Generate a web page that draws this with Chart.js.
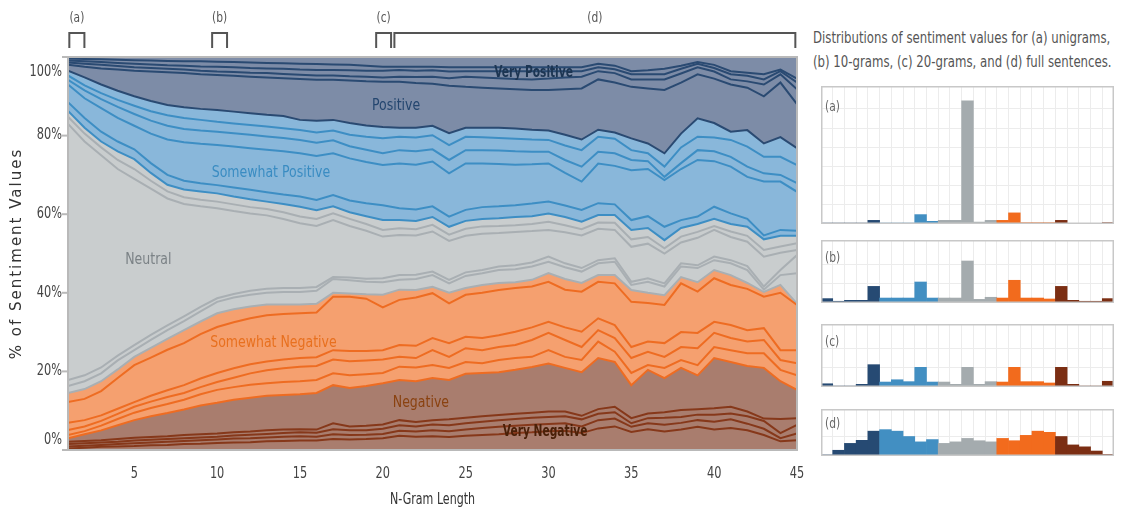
<!DOCTYPE html>
<html>
<head>
<meta charset="utf-8">
<script src="https://cdn.jsdelivr.net/npm/chart.js@4.4.1/dist/chart.umd.min.js"></script>
<style>
  html, body { margin: 0; padding: 0; background: #fff; }
  body { width: 1132px; height: 511px; position: relative; overflow: hidden; }
  canvas { position: absolute; display: block; }
  #caption {
    position: absolute; left: 813px; top: 26px;
    font: 15px 'DejaVu Sans Condensed', 'DejaVu Sans', sans-serif;
    color: #555; line-height: 24px; white-space: nowrap;
    transform: scaleX(0.87); transform-origin: left top;
  }
</style>
</head>
<body>
<canvas id="main" width="805" height="511" style="left:0;top:0"></canvas>
<div id="caption">Distributions of sentiment values for (a) unigrams,<br>(b) 10-grams, (c) 20-grams, and (d) full sentences.</div>
<canvas id="histA" width="293" height="138" style="left:821px;top:86px"></canvas>
<canvas id="histB" width="293" height="63" style="left:821px;top:240px"></canvas>
<canvas id="histC" width="293" height="63" style="left:821px;top:324px"></canvas>
<canvas id="histD" width="293" height="47" style="left:821px;top:409px"></canvas>
<script>
const FONT = "'DejaVu Sans Condensed', 'DejaVu Sans', sans-serif";

const nGram = [1,2,3,4,5,6,7,8,9,10,11,12,13,14,15,16,17,18,19,20,21,22,23,24,25,26,27,28,29,30,31,32,33,34,35,36,37,38,39,40,41,42,43,44,45];
const xTicks = [5, 10, 15, 20, 25, 30, 35, 40, 45];
const yTicks = [0, 20, 40, 60, 80, 100];

// cumulative % of n-grams below each sentiment bin edge (25 bins, bottom to top)
const vneg1 = [0.4,0.6,0.8,0.9,1.0,1.2,1.3,1.5,1.6,1.8, 1.9,2.0,2.2,2.3,2.4,2.4,2.8,2.7,2.8,3.0, 3.6,3.4,3.5,3.3,3.6,3.8,4.0,4.3,4.5,4.8, 4.9,4.3,5.5,6.0,4.6,5.3,4.7,5.2,5.9,5.2, 5.6,5.0,3.8,2.2,2.5];
const vneg2 = [0.9,1.1,1.3,1.5,1.7,1.9,2.1,2.3,2.5,2.7, 2.9,3.0,3.2,3.4,3.5,3.4,4.0,3.8,3.9,4.1, 4.9,4.7,5.0,4.8,5.2,5.6,5.9,6.2,6.4,6.6, 6.8,6.0,7.6,8.0,5.9,6.8,6.4,6.9,7.6,7.2, 7.8,6.7,5.4,3.0,4.2];
const vneg3 = [1.5,1.7,1.9,2.1,2.4,2.6,2.8,3.0,3.2,3.4, 3.7,3.9,4.1,4.3,4.5,4.4,5.3,5.0,5.0,5.4, 6.3,6.0,6.5,6.3,6.8,7.2,7.6,7.9,8.2,8.4, 8.6,7.8,9.2,9.6,6.8,8.1,8.2,8.4,9.0,9.0, 9.3,8.6,7.4,4.3,6.4];
const vneg4 = [2.1,2.3,2.5,2.8,3.1,3.3,3.5,3.8,4.0,4.2, 4.5,4.7,5.0,5.2,5.3,5.2,6.8,6.0,6.2,6.5, 7.6,7.1,7.6,7.8,8.2,8.6,8.9,9.2,9.5,9.8, 9.8,8.7,10.4,11.0,8.1,9.3,9.6,10.2,10.4,10.6, 11.0,9.8,8.0,7.9,8.1];
const negTop = [3.0,4.0,5.0,6.3,7.6,8.6,9.4,10.3,11.3,12.0, 12.8,13.3,13.8,14.0,14.2,14.5,16.5,15.8,16.3,17.0, 17.8,17.5,18.3,17.8,19.4,19.6,19.8,20.4,21.1,22.0, 20.9,19.8,23.4,22.4,16.5,20.4,18.3,20.9,19.0,23.4, 22.4,21.4,20.9,17.5,15.3];
const sneg1 = [3.8,4.8,6.2,7.9,9.5,10.7,11.7,12.8,14.2,15.3, 16.0,16.6,17.0,17.3,17.5,17.8,19.5,19.0,19.3,19.6, 21.2,21.0,21.6,20.9,22.4,22.1,22.9,23.4,23.7,25.4, 23.7,22.9,27.6,25.0,19.6,21.6,20.9,22.9,21.6,26.2, 25.4,24.6,24.6,20.4,19.0];
const sneg2 = [5.1,6.0,7.4,9.2,11.0,12.3,13.5,14.5,16.0,17.3, 18.4,19.5,20.3,20.8,21.2,21.4,23.0,22.6,22.8,23.0, 23.7,23.4,25.4,23.7,25.9,25.4,26.2,26.7,28.0,29.8, 28.0,26.2,30.5,28.5,23.4,25.0,23.7,26.2,25.9,29.8, 28.5,27.6,28.0,22.9,22.1];
const sneg3 = [6.9,7.6,8.8,10.5,12.2,13.8,15.2,16.5,18.2,19.6, 20.8,21.8,22.5,23.0,23.4,23.6,25.4,25.2,25.2,25.4, 26.7,26.5,28.5,27.2,28.8,28.5,29.2,30.1,31.2,32.6, 31.2,30.1,33.5,31.8,26.2,27.6,27.2,30.0,29.8,32.6, 31.8,30.5,31.0,25.4,25.4];
const sneg4 = [12.2,13.0,15.0,18.3,21.6,23.5,25.5,27.2,29.5,31.3, 32.5,33.5,34.3,34.6,34.8,35.0,39.0,39.0,38.5,36.3, 38.2,38.8,39.9,37.3,39.5,40.0,40.7,41.2,41.6,42.8, 40.8,40.3,42.8,42.4,37.7,37.4,36.9,42.4,40.3,43.7, 42.0,41.0,39.0,40.0,36.9];
const snegTop = [14.5,15.5,17.5,20.5,23.7,26.0,28.3,30.5,32.7,34.8, 35.8,36.5,37.0,37.0,37.0,37.2,40.0,39.8,39.6,39.5, 40.8,40.7,41.5,40.0,41.2,42.0,42.5,42.7,43.3,45.0, 43.5,42.5,44.5,44.5,40.7,40.0,39.4,44.0,42.7,45.8, 44.5,42.5,40.2,42.0,37.2];
const neu1 = [16.3,17.5,19.5,22.8,25.4,28.0,30.5,32.8,35.3,37.7, 38.8,39.5,40.0,40.2,40.2,40.5,43.5,43.2,42.8,42.7, 43.3,43.5,44.5,42.4,44.3,45.0,45.8,46.0,46.7,47.9, 46.5,45.4,47.5,47.9,42.0,42.8,41.6,46.7,46.3,48.3, 47.5,45.8,40.8,44.5,45.0];
const neu2 = [17.8,19.0,21.0,24.0,26.7,29.3,31.7,34.0,36.4,38.6, 39.7,40.5,41.0,41.2,41.2,41.5,44.0,43.9,43.6,43.7, 44.5,44.6,45.4,43.3,45.2,45.8,46.7,47.0,47.7,49.2, 47.5,46.3,48.3,48.8,42.8,43.7,42.4,47.5,47.0,49.2, 48.3,46.8,41.6,45.8,49.6];
const neu3 = [83.0,78.5,75.0,71.5,69.0,66.5,64.0,62.6,62.0,61.5, 60.8,60.2,59.7,58.8,57.7,57.0,58.5,57.0,55.8,54.3, 54.7,54.6,55.6,53.2,54.5,55.0,55.2,55.5,55.7,56.0, 55.4,54.6,56.3,56.0,51.7,52.5,50.0,52.8,54.0,56.0, 54.2,53.0,49.2,50.2,50.9];
const neu4 = [84.8,80.5,77.0,73.8,71.5,68.5,65.8,64.3,63.7,63.2, 62.5,61.8,61.3,60.5,59.4,58.8,60.2,58.8,57.5,56.0, 56.4,56.2,57.3,54.8,56.3,56.9,57.0,57.2,57.5,58.1, 57.2,56.2,57.9,57.8,53.6,54.2,51.3,54.3,55.5,57.0, 55.6,54.5,50.9,51.8,52.6];
const neuTop = [86.3,82.0,78.5,76.0,74.0,70.5,67.5,66.3,65.8,65.3, 64.5,63.8,63.2,62.6,61.9,61.0,62.0,60.5,59.5,58.5, 58.5,58.3,59.3,56.8,58.3,58.8,59.0,59.3,59.5,60.2, 59.3,58.1,59.8,59.8,56.0,56.5,53.4,56.5,57.5,58.8, 57.5,56.8,53.6,54.5,54.5];
const spos1 = [88.5,84.5,81.0,78.5,76.5,73.0,70.0,68.5,67.9,67.4, 66.8,66.2,65.6,65.0,64.5,63.6,64.9,63.5,62.8,62.3, 61.5,61.2,62.0,59.4,61.1,61.8,62.0,62.3,62.7,63.2, 62.2,61.1,62.8,62.5,58.5,59.5,56.8,58.5,59.4,61.9, 60.2,58.8,54.6,56.0,55.8];
const spos2 = [93.0,89.5,87.0,84.5,82.5,80.5,79.0,78.3,77.9,77.6, 77.2,76.8,76.4,76.0,75.5,74.8,75.5,74.2,73.3,72.5, 72.9,72.6,73.4,70.4,72.9,72.9,72.8,72.6,72.7,72.9, 70.5,68.3,72.9,72.3,71.2,71.5,68.7,71.5,73.8,73.5, 72.1,69.5,68.3,68.3,65.7];
const spos3 = [94.2,91.5,89.3,87.3,85.5,83.8,82.5,81.7,81.3,81.0, 80.6,80.2,79.8,79.4,78.9,78.2,78.8,77.3,76.4,75.5, 76.3,76.0,76.5,73.8,76.3,76.3,76.2,76.0,75.9,75.9, 73.8,72.1,75.9,75.5,73.8,73.5,69.5,73.0,76.3,76.0, 74.6,72.1,70.4,70.0,67.9];
const spos4 = [95.3,92.8,90.8,89.1,87.6,86.2,85.2,84.5,84.0,83.5, 83.1,82.7,82.3,81.9,81.4,80.8,81.3,80.2,79.7,79.3, 79.7,79.5,80.1,77.6,79.7,79.6,79.4,79.2,79.0,78.9, 77.5,76.3,79.7,79.2,76.3,75.5,72.1,77.0,79.7,79.5, 78.9,77.2,74.6,74.6,72.5];
const sposTop = [96.5,94.8,93.0,91.4,90.0,88.8,87.8,87.2,86.8,86.5, 86.1,85.7,85.3,85.0,84.0,83.8,84.0,83.2,82.6,82.2, 82.0,82.0,82.5,80.6,82.0,82.0,82.0,81.8,81.5,81.3, 80.2,79.0,81.5,80.8,79.3,78.0,75.5,80.5,84.4,83.2, 81.0,81.4,78.0,79.6,76.8];
const pos1 = [98.0,97.5,97.1,96.8,96.5,96.3,96.1,95.9,95.6,95.4, 95.2,95.0,94.8,94.6,94.4,94.2,94.2,94.0,93.8,93.7, 93.7,93.4,93.2,92.7,92.4,92.2,92.0,91.8,91.6,91.6, 91.8,92.0,94.3,93.5,92.4,92.0,91.6,93.5,95.6,94.5, 93.0,92.2,90.0,93.5,88.0];
const pos2 = [98.6,98.3,98.0,97.7,97.4,97.2,97.0,96.8,96.5,96.3, 96.2,96.0,95.9,95.7,95.5,95.3,95.3,95.1,95.0,94.8, 95.0,94.9,95.0,94.6,95.0,94.8,94.6,94.4,94.3,94.5, 94.8,95.0,96.4,95.9,94.3,94.3,94.3,95.8,97.4,96.3, 94.3,93.8,93.0,95.6,91.8];
const pos3 = [99.1,98.9,98.7,98.5,98.3,98.1,97.9,97.8,97.6,97.5, 97.4,97.2,97.1,97.0,96.8,96.7,96.7,96.6,96.5,96.5, 96.7,96.5,96.6,96.3,96.4,96.4,96.4,96.4,96.4,96.4, 96.4,96.4,97.4,96.9,95.6,95.6,95.6,97.0,98.3,97.2, 95.6,95.2,94.3,96.4,93.5];
const pos4 = [99.6,99.5,99.4,99.3,99.2,99.1,99.0,98.9,98.9,98.8, 98.7,98.6,98.5,98.4,98.3,98.2,98.1,98.0,97.8,97.5, 97.5,97.5,97.5,97.4,97.4,97.4,97.4,97.4,97.4,97.4, 97.4,97.4,98.3,97.8,96.4,96.6,97.0,97.8,98.7,98.0, 96.4,96.0,95.6,96.8,94.5];

// histogram panels: % of n-grams per sentiment bin
const histBins = [1,2,3,4,5,6,7,8,9,10,11,12,13,14,15,16,17,18,19,20,21,22,23,24,25];
const histA = [0.5,0.5,0.5,0.5,1.9, 0.5,0.5,0.5,4.9,1.4, 1.9,1.9,64.2,1.0,1.9, 1.9,5.8,0.7,0.7,0.7, 1.9,0.3,0.3,0.3,0.7];
const histB = [2.3,0.9,1.4,1.4,8.7, 2.6,2.6,2.6,11.0,2.6, 2.6,2.6,22.0,1.9,3.0, 2.6,11.9,2.6,2.6,2.1, 8.7,1.4,0.9,0.9,2.3];
const histC = [1.7,0.5,0.5,1.4,11.7, 2.6,3.8,2.8,10.3,2.6, 2.6,1.4,10.3,1.4,2.8, 2.6,10.3,2.8,2.8,2.1, 10.3,1.4,0.5,0.5,3.0];
const histD = [0.3,1.5,3.3,4.1,6.5, 6.9,6.5,5.1,3.7,4.3, 3.3,3.7,4.6,4.0,3.7, 4.6,4.0,5.4,6.5,6.2, 5.1,2.9,2.4,1.3,0.4];

const baseline = nGram.map(() => 0);
const edges = [baseline, vneg1, vneg2, vneg3, vneg4, negTop, sneg1, sneg2, sneg3, sneg4, snegTop,
  neu1, neu2, neu3, neu4, neuTop, spos1, spos2, spos3, spos4, sposTop, pos1, pos2, pos3, pos4];

// five bands of five bins each, negative at the bottom
const bands = [
  { fill: '#a97d6e', line: '#86381a' },
  { fill: '#f5a06f', line: '#ee6c22' },
  { fill: '#c9cdce', line: '#a9afb3' },
  { fill: '#89b7da', line: '#3d8ec4' },
  { fill: '#7d8ca7', line: '#2a4a72' }
];

const brackets = [
  { tag: '(a)', from: 1.08, to: 1.99 },
  { tag: '(b)', from: 9.7, to: 10.6 },
  { tag: '(c)', from: 19.6, to: 20.5 },
  { tag: '(d)', from: 20.7, to: 44.9 }
];

const bandLabels = [
  { text: 'Very Positive', n: 29.1, v: 95.9, color: '#1c3552', weight: 'bold', squeeze: 0.74 },
  { text: 'Positive', n: 20.8, v: 87.5, color: '#24466f', weight: 'normal', squeeze: 0.87 },
  { text: 'Somewhat Positive', n: 13.25, v: 70.5, color: '#3a8cc2', weight: 'normal', squeeze: 0.87 },
  { text: 'Neutral', n: 5.85, v: 48.3, color: '#7b8286', weight: 'normal', squeeze: 0.87 },
  { text: 'Somewhat Negative', n: 13.4, v: 27.2, color: '#e8701f', weight: 'normal', squeeze: 0.87 },
  { text: 'Negative', n: 22.3, v: 12.0, color: '#8a4210', weight: 'normal', squeeze: 0.87 },
  { text: 'Very Negative', n: 29.8, v: 4.6, color: '#4a2008', weight: 'bold', squeeze: 0.74 }
];

// horizontally squeezed text, anchored at (x, y) with the current alignment
function narrowText(ctx, text, x, y, squeeze) {
  ctx.save();
  ctx.translate(x, y);
  ctx.scale(squeeze, 1);
  ctx.fillText(text, 0, 0);
  ctx.restore();
}

const datasets = edges.map((edge, i) => {
  const band = bands[Math.floor(i / 5)];
  return {
    data: edge.map((v, j) => ({ x: nGram[j], y: v })),
    borderColor: band.line,
    backgroundColor: band.fill,
    borderWidth: 2,
    pointRadius: 0,
    tension: 0,
    fill: i < edges.length - 1 ? '+1' : 'end'
  };
});

const mainDecor = {
  id: 'mainDecor',
  afterDraw(chart) {
    const { ctx, chartArea: a, scales: { x, y } } = chart;
    ctx.save();
    ctx.strokeStyle = '#b9b9b9';
    ctx.lineWidth = 2;
    ctx.strokeRect(a.left, a.top, a.right - a.left, a.bottom - a.top);

    // y tick marks and labels, the end labels kept inside the frame
    ctx.font = '15px ' + FONT;
    ctx.fillStyle = '#444';
    ctx.textAlign = 'right';
    ctx.textBaseline = 'middle';
    yTicks.forEach(v => {
      const py = y.getPixelForValue(v);
      ctx.beginPath();
      ctx.moveTo(a.left - 6, py);
      ctx.lineTo(a.left, py);
      ctx.stroke();
      const shift = v === 100 ? 15 : (v === 0 ? -10 : 0);
      narrowText(ctx, v + '%', a.left - 6, py + shift, 0.84);
    });

    // x tick labels
    ctx.textAlign = 'center';
    xTicks.forEach(v => narrowText(ctx, String(v), x.getPixelForValue(v), 474, 0.84));

    // axis titles
    ctx.fillStyle = '#333';
    narrowText(ctx, 'N-Gram Length', (a.left + a.right) / 2, 500, 0.82);
    ctx.save();
    ctx.translate(17, (a.top + a.bottom) / 2);
    ctx.rotate(-Math.PI / 2);
    ctx.font = '15px "DejaVu Sans", sans-serif';
    ctx.letterSpacing = '2px';
    ctx.fillText('% of Sentiment Values', 0, 0);
    ctx.restore();

    // brackets over the sampled n-gram lengths
    ctx.strokeStyle = '#555';
    ctx.fillStyle = '#555';
    ctx.lineWidth = 2;
    ctx.font = '14px ' + FONT;
    brackets.forEach(b => {
      const x0 = x.getPixelForValue(b.from);
      const x1 = x.getPixelForValue(b.to);
      ctx.beginPath();
      ctx.moveTo(x0, 48);
      ctx.lineTo(x0, 33);
      ctx.lineTo(x1, 33);
      ctx.lineTo(x1, 48);
      ctx.stroke();
      narrowText(ctx, b.tag, (x0 + x1) / 2, 18, 0.85);
    });

    // band names
    bandLabels.forEach(l => {
      ctx.font = l.weight + ' 16px ' + FONT;
      ctx.fillStyle = l.color;
      narrowText(ctx, l.text, x.getPixelForValue(l.n), y.getPixelForValue(l.v), l.squeeze);
    });
    ctx.restore();
  }
};

new Chart(document.getElementById('main'), {
  type: 'line',
  data: { datasets },
  options: {
    responsive: false,
    animation: false,
    layout: { padding: { left: 0, top: 57, right: 8, bottom: 0 } },
    plugins: {
      legend: { display: false },
      tooltip: { enabled: false },
      filler: { drawTime: 'beforeDatasetsDraw' }
    },
    scales: {
      x: {
        type: 'linear', min: 1, max: 45, z: 1,
        afterBuildTicks: s => { s.ticks = xTicks.map(v => ({ value: v })); },
        afterFit: s => { s.height = 61; },
        grid: { color: 'rgba(215,220,224,0.35)', drawTicks: false },
        border: { display: false },
        ticks: { display: false }
      },
      y: {
        type: 'linear', min: 0, max: 100, z: 1,
        afterBuildTicks: s => { s.ticks = yTicks.map(v => ({ value: v })); },
        afterFit: s => { s.width = 68; },
        grid: { color: 'rgba(215,220,224,0.35)', drawTicks: false },
        border: { display: false },
        ticks: { display: false }
      }
    }
  },
  plugins: [mainDecor]
});

const binColors = histBins.map((b, i) => ['#264a73', '#428fc2', '#a4abae', '#f26b1d', '#7b2e13'][Math.floor(i / 5)]);

function panelFrame(tag, labelY) {
  return {
    id: 'panelFrame',
    afterDraw(chart) {
      const { ctx, chartArea: a } = chart;
      ctx.save();
      ctx.strokeStyle = '#c8c8c8';
      ctx.lineWidth = 1.5;
      ctx.strokeRect(a.left + 0.75, a.top + 0.75, a.right - a.left - 1.5, a.bottom - a.top - 1.5);
      ctx.font = '14px ' + FONT;
      ctx.fillStyle = '#666';
      ctx.textBaseline = 'middle';
      narrowText(ctx, tag, a.left + 4, a.top + labelY, 0.85);
      ctx.restore();
    }
  };
}

function histogram(id, values, yMax, step, tag, labelY) {
  new Chart(document.getElementById(id), {
    type: 'bar',
    data: {
      labels: histBins,
      datasets: [{ data: values, backgroundColor: binColors, barPercentage: 1, categoryPercentage: 1, borderWidth: 0 }]
    },
    options: {
      responsive: false,
      animation: false,
      layout: { padding: 0 },
      plugins: { legend: { display: false }, tooltip: { enabled: false } },
      scales: {
        x: { grid: { color: '#ececec', drawTicks: false, offset: true }, ticks: { display: false }, border: { display: false } },
        y: { min: 0, max: yMax, ticks: { display: false, stepSize: step }, grid: { color: '#ececec', drawTicks: false }, border: { display: false } }
      }
    },
    plugins: [panelFrame(tag, labelY)]
  });
}

histogram('histA', histA, 72, 10, '(a)', 21);
histogram('histB', histB, 33, 10, '(b)', 18);
histogram('histC', histC, 33, 10, '(c)', 18);
histogram('histD', histD, 12.3, 5, '(d)', 15);
</script>
</body>
</html>
